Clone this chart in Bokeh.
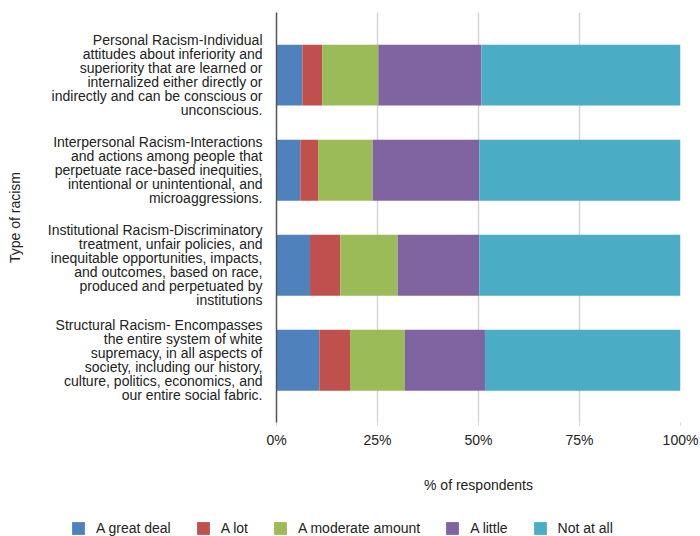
from bokeh.plotting import figure
from bokeh.models import Range1d, FixedTicker, Legend, NumeralTickFormatter
from bokeh.layouts import column, row
from bokeh.embed import file_html
from bokeh.resources import INLINE

categories = [
    "Personal Racism-Individual\nattitudes about inferiority and\nsuperiority that are learned or\ninternalized either directly or\nindirectly and can be conscious or\nunconscious.",
    "Interpersonal Racism-Interactions\nand actions among people that\nperpetuate race-based inequities,\nintentional or unintentional, and\nmicroaggressions.",
    "Institutional Racism-Discriminatory\ntreatment, unfair policies, and\ninequitable opportunities, impacts,\nand outcomes, based on race,\nproduced and perpetuated by\ninstitutions",
    "Structural Racism- Encompasses\nthe entire system of white\nsupremacy, in all aspects of\nsociety, including our history,\nculture, politics, economics, and\nour entire social fabric.",
]
series_names = ["A great deal", "A lot", "A moderate amount", "A little", "Not at all"]
a_great_deal = [6.4, 5.9, 8.3, 10.6]
a_lot = [4.9, 4.4, 7.5, 7.6]
a_moderate_amount = [13.9, 13.5, 14.2, 13.6]
a_little = [25.5, 26.4, 20.2, 19.8]
not_at_all = [49.3, 49.8, 49.8, 48.4]
x_ticks = [0, 25, 50, 75, 100]
colors = ["#4F81BD", "#C0504D", "#9BBB59", "#8064A2", "#4BACC6"]

FONT = "Liberation Sans"
TXT = "#222222"
n = len(categories)
ypos = [n - 1 - i for i in range(n)]

data = {"y": ypos}
keys = []
for name, vals in zip(series_names, [a_great_deal, a_lot, a_moderate_amount, a_little, not_at_all]):
    k = name.replace(" ", "_")
    keys.append(k)
    data[k] = [v / 100 for v in vals]

p = figure(width=700, height=506, output_backend="svg", toolbar_location=None,
           x_range=Range1d(0, 1), y_range=Range1d(-0.655, n - 1 + 0.66),
           min_border_left=276, min_border_right=20, min_border_top=12, min_border_bottom=84)
p.outline_line_color = None

renderers = p.hbar_stack(keys, y="y", height=0.64, color=colors, source=data,
                         line_color=None)

p.xaxis.ticker = FixedTicker(ticks=[t / 100 for t in x_ticks])
p.xaxis.formatter = NumeralTickFormatter(format="0%")
p.xaxis.axis_line_color = None
p.xaxis.major_tick_line_color = "#d4d4d4"
p.xaxis.major_tick_out = 3
p.xaxis.major_tick_in = 0
p.xaxis.minor_tick_line_color = None
p.xaxis.major_label_standoff = 6
p.xaxis.major_label_text_font = FONT
p.xaxis.major_label_text_font_size = "14px"
p.xaxis.major_label_text_color = TXT
p.xaxis.axis_label = "% of respondents"
p.xaxis.axis_label_text_font = FONT
p.xaxis.axis_label_text_font_size = "14px"
p.xaxis.axis_label_text_font_style = "normal"
p.xaxis.axis_label_text_color = TXT
p.xaxis.axis_label_standoff = 26

p.yaxis.ticker = FixedTicker(ticks=ypos)
p.yaxis.major_label_overrides = {y: c for y, c in zip(ypos, categories)}
p.yaxis.axis_line_color = "#555555"
p.yaxis.axis_line_width = 1.5
p.yaxis.major_tick_line_color = None
p.yaxis.minor_tick_line_color = None
p.yaxis.major_label_standoff = 8
p.yaxis.major_label_text_font = FONT
p.yaxis.major_label_text_font_size = "14px"
p.yaxis.major_label_text_color = TXT
p.yaxis.major_label_text_line_height = 0.875
p.yaxis.axis_label = "Type of racism"
p.yaxis.axis_label_text_font = FONT
p.yaxis.axis_label_text_font_size = "14px"
p.yaxis.axis_label_text_font_style = "normal"
p.yaxis.axis_label_text_color = TXT
p.yaxis.axis_label_standoff = 22

p.ygrid.grid_line_color = None
p.xgrid.grid_line_color = "#d4d4d4"
p.xgrid.grid_line_width = 1.5

# legend strip below the chart (its bars lie outside the strip's view; only the legend shows)
lg = figure(width=700, height=30, output_backend="svg", toolbar_location=None,
            x_range=Range1d(0, 1), y_range=Range1d(10, 11),
            min_border_left=0, min_border_right=0, min_border_top=0, min_border_bottom=0)
lg.axis.visible = False
lg.grid.visible = False
lg.outline_line_color = None
lg_renderers = lg.hbar_stack(keys, y="y", height=0.64, color=colors, source=data, line_color=None)
legend = Legend(items=[(name, [r]) for name, r in zip(series_names, lg_renderers)],
                orientation="horizontal", location=(70, 0),
                glyph_width=16, glyph_height=16, label_standoff=10, spacing=24,
                padding=0, margin=0, border_line_color=None, background_fill_alpha=0,
                label_text_font=FONT, label_text_font_size="14px", label_text_color=TXT)
lg.add_layout(legend, "center")

layout = column(p, row(lg), spacing=0)
open("out.html", "w").write(file_html(layout, INLINE))
